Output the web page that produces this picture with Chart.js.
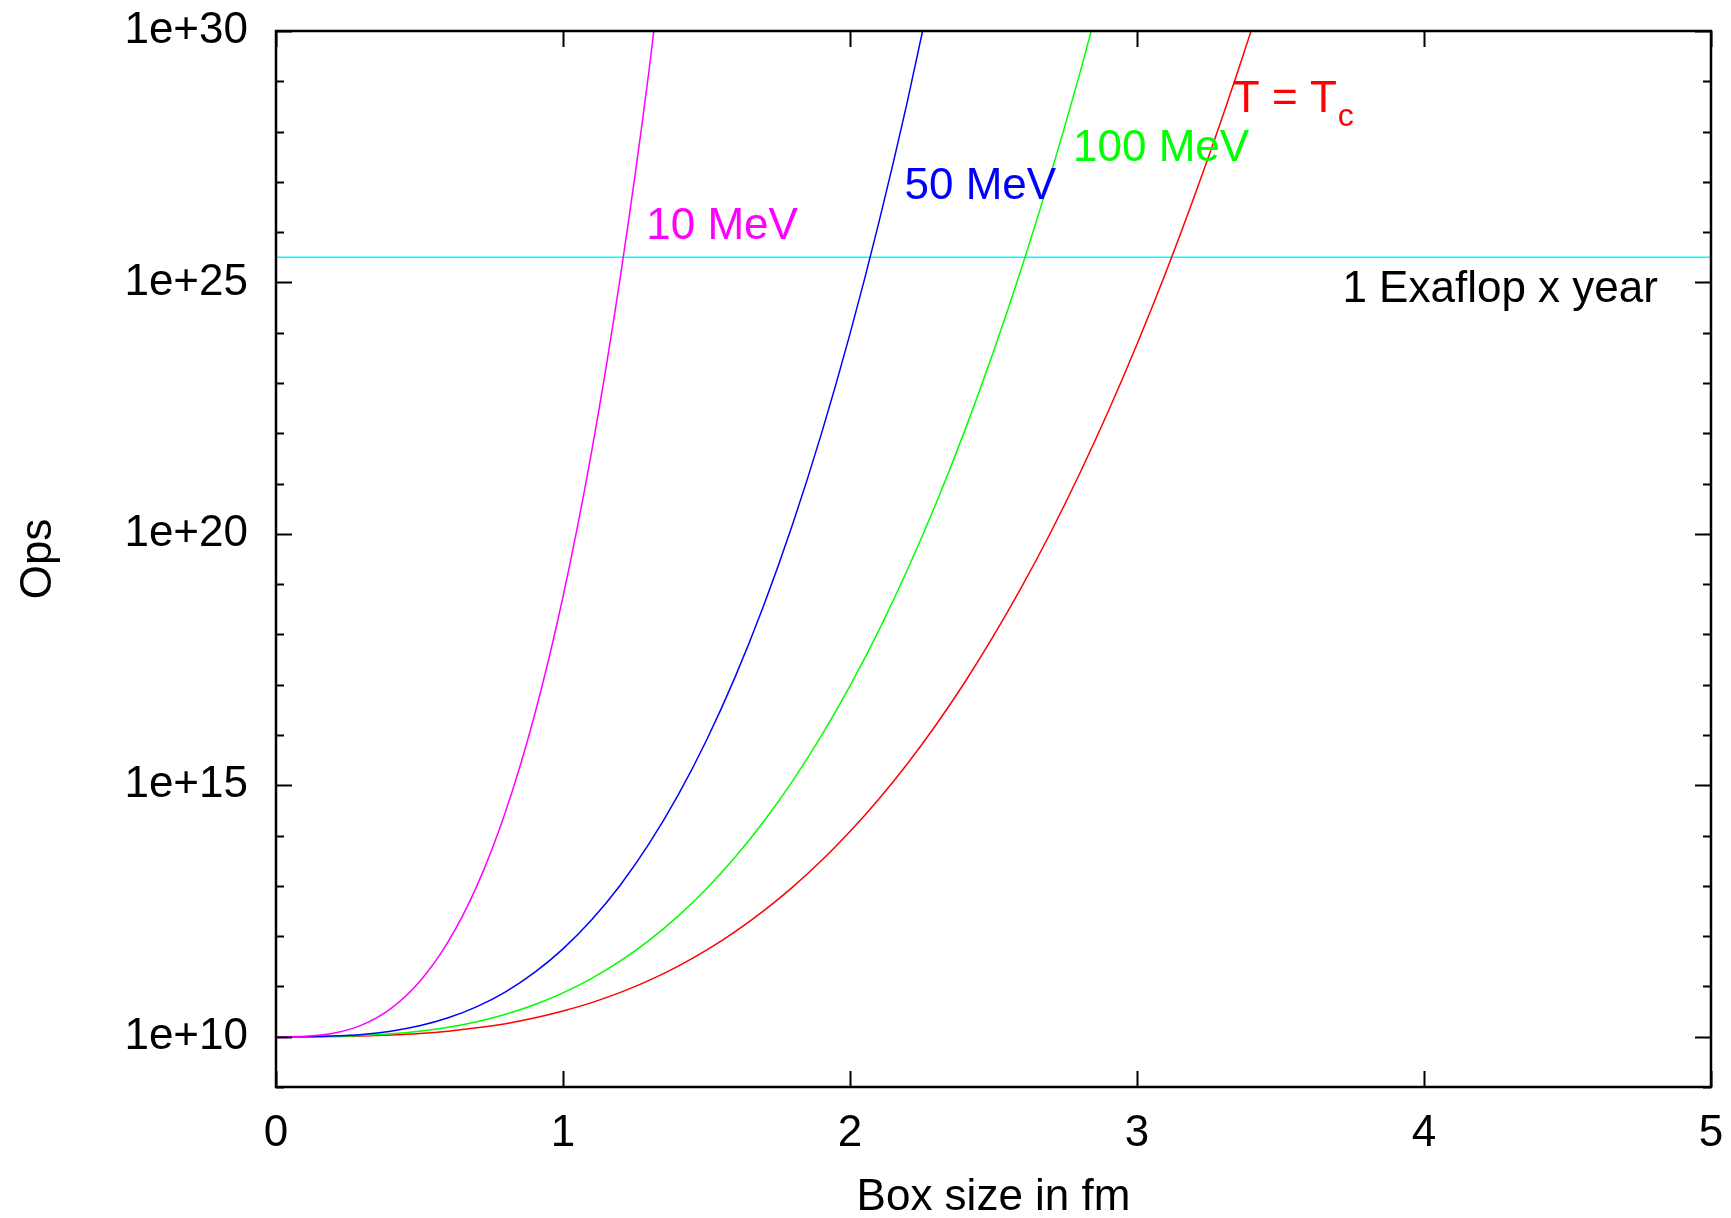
<!DOCTYPE html>
<html>
<head>
<meta charset="utf-8">
<script src="https://cdn.jsdelivr.net/npm/chart.js@4/dist/chart.umd.min.js"></script>
<style>
  html, body { margin: 0; padding: 0; background: #fff; }
  #wrap { width: 1731px; height: 1218px; }
</style>
</head>
<body>
<div id="wrap"><canvas id="opsChart" width="1731" height="1218"></canvas></div>
<script>
// box size L in fm
const boxSize = [0, 0.1, 0.2, 0.3, 0.4, 0.5, 0.6, 0.7, 0.8, 0.9, 1.0, 1.1, 1.2, 1.3, 1.4, 1.5, 1.6, 1.7,
  1.8, 1.9, 2.0, 2.1, 2.2, 2.3, 2.4, 2.5, 2.6, 2.7, 2.8, 2.9, 3.0, 3.1, 3.2, 3.3, 3.4, 3.5];

// operation counts per temperature
const ops10MeV = [1e10, 1.02e10, 1.17e10, 1.72e10, 3.63e10, 1.24e11, 7.76e11, 1.0e13, 3.02e14, 2.39e16,
  5.62e18, 4.43e21, 1.32e25, 1.67e29, 1.02e34];
const ops50MeV = [1e10, 1.0e10, 1.03e10, 1.11e10, 1.29e10, 1.65e10, 2.38e10, 3.97e10, 7.83e10, 1.88e11,
  5.58e11, 2.11e12, 1.04e13, 6.89e13, 6.22e14, 7.87e15, 1.43e17, 3.83e18, 1.55e20, 9.62e21, 9.46e23,
  1.51e26, 4.0e28, 1.8e31];
const ops100MeV = [1e10, 1.0e10, 1.02e10, 1.06e10, 1.14e10, 1.29e10, 1.54e10, 1.99e10, 2.79e10, 4.32e10,
  7.45e10, 1.45e11, 3.21e11, 8.24e11, 2.47e12, 8.77e12, 3.73e13, 1.92e14, 1.22e15, 9.57e15, 9.46e16,
  1.19e18, 1.93e19, 4.07e20, 1.13e22, 4.22e23, 2.12e25, 1.46e27, 1.39e29, 1.85e31];
const opsTc = [1e10, 1.0e10, 1.01e10, 1.03e10, 1.08e10, 1.16e10, 1.29e10, 1.50e10, 1.82e10, 2.35e10,
  3.24e10, 4.77e10, 7.60e10, 1.32e11, 2.51e11, 5.26e11, 1.23e12, 3.21e12, 9.42e12, 3.15e13, 1.20e14,
  5.28e14, 2.69e15, 1.60e16, 1.12e17, 9.31e17, 9.20e18, 1.09e20, 1.57e21, 2.74e22, 5.89e23, 1.56e25,
  5.15e26, 2.13e28, 1.11e30, 7.35e31];

// 1 exaflop sustained for one year
const exaflopYear = 3.15e25;

const xTicks = [0, 1, 2, 3, 4, 5];
const yDecades = [9, 10, 11, 12, 13, 14, 15, 16, 17, 18, 19, 20, 21, 22, 23, 24, 25, 26, 27, 28, 29, 30];

const FONT = "'Liberation Sans', Arial, Helvetica, sans-serif";
const FONT_SIZE = 44;

function toPoints(values) {
  return values.map((v, i) => ({ x: boxSize[i], y: v }));
}

function curve(values, color) {
  return {
    data: toPoints(values),
    borderColor: color,
    borderWidth: 1.5,
    pointRadius: 0,
    fill: false,
    cubicInterpolationMode: 'monotone'
  };
}

// text placed next to the curves, in data coordinates
const curveLabels = [
  { text: '10 MeV', x: 1.29, y: 1.25e26, color: '#ff00ff', align: 'left' },
  { text: '50 MeV', x: 2.19, y: 7.8e26, color: '#0000ff', align: 'left' },
  { text: '100 MeV', x: 2.777, y: 4.6e27, color: '#00ff00', align: 'left' },
  { text: 'T = T', sub: 'c', x: 3.334, y: 4.2e28, color: '#ff0000', align: 'left' },
  { text: '1 Exaflop x year', x: 4.815, y: 7.0e24, color: '#000000', align: 'right' }
];

// gnuplot style frame: border plus inward ticks mirrored on all sides
const framePlugin = {
  id: 'frame',
  afterDatasetsDraw(chart) {
    const { ctx, chartArea: a, scales: { x, y } } = chart;
    ctx.save();
    ctx.strokeStyle = '#000';
    ctx.lineWidth = 2;
    ctx.beginPath();
    xTicks.forEach(v => {
      const px = Math.round(x.getPixelForValue(v)) + 0.5;
      ctx.moveTo(px, a.bottom); ctx.lineTo(px, a.bottom - 16);
      ctx.moveTo(px, a.top); ctx.lineTo(px, a.top + 16);
    });
    yDecades.forEach(e => {
      const py = Math.round(y.getPixelForValue(Math.pow(10, e))) + 0.5;
      const len = e % 5 === 0 ? 16 : 8;
      ctx.moveTo(a.left, py); ctx.lineTo(a.left + len, py);
      ctx.moveTo(a.right, py); ctx.lineTo(a.right - len, py);
    });
    ctx.stroke();
    ctx.lineWidth = 2.5;
    ctx.strokeRect(a.left, a.top, a.right - a.left, a.bottom - a.top);

    ctx.font = FONT_SIZE + 'px ' + FONT;
    ctx.textBaseline = 'middle';
    curveLabels.forEach(l => {
      const px = x.getPixelForValue(l.x);
      const py = y.getPixelForValue(l.y);
      ctx.fillStyle = l.color;
      ctx.textAlign = l.align;
      ctx.fillText(l.text, px, py);
      if (l.sub) {
        const w = ctx.measureText(l.text).width;
        ctx.font = '32px ' + FONT;
        ctx.textAlign = 'left';
        ctx.fillText(l.sub, px + w + 1, py + 17);
        ctx.font = FONT_SIZE + 'px ' + FONT;
      }
    });
    ctx.restore();
  }
};

new Chart(document.getElementById('opsChart'), {
  type: 'line',
  data: {
    datasets: [
      curve(ops10MeV, '#ff00ff'),
      curve(ops50MeV, '#0000ff'),
      curve(ops100MeV, '#00ff00'),
      curve(opsTc, '#ff0000'),
      {
        data: [{ x: 0, y: exaflopYear }, { x: 5, y: exaflopYear }],
        borderColor: '#00ffff',
        borderWidth: 1.5,
        pointRadius: 0,
        fill: false
      }
    ]
  },
  options: {
    responsive: false,
    animation: false,
    events: [],
    layout: { padding: { top: 31, right: 20, left: 0, bottom: 0 } },
    plugins: { legend: { display: false }, tooltip: { enabled: false } },
    scales: {
      x: {
        type: 'linear',
        min: 0,
        max: 5,
        afterBuildTicks: s => { s.ticks = xTicks.map(v => ({ value: v })); },
        afterFit: s => { s.height = 131; s.paddingLeft = 0; s.paddingRight = 0; },
        grid: { display: false, drawTicks: false },
        border: { display: false },
        ticks: { color: '#000', padding: 20, font: { family: FONT, size: FONT_SIZE }, maxRotation: 0 },
        title: {
          display: true,
          text: 'Box size in fm',
          color: '#000',
          font: { family: FONT, size: FONT_SIZE, lineHeight: 0.9 },
          padding: { top: 0, bottom: 0 }
        }
      },
      y: {
        type: 'logarithmic',
        min: 1e9,
        max: 1e30,
        afterBuildTicks: s => { s.ticks = yDecades.map(e => ({ value: Math.pow(10, e) })); },
        afterFit: s => { s.width = 276; s.paddingTop = 0; s.paddingBottom = 0; },
        grid: { display: false, drawTicks: false },
        border: { display: false },
        ticks: {
          color: '#000',
          padding: 28,
          autoSkip: false,
          font: { family: FONT, size: FONT_SIZE },
          callback: v => {
            const e = Math.round(Math.log10(v));
            return e % 5 === 0 ? '1e+' + e : '';
          }
        },
        title: {
          display: true,
          text: 'Ops',
          color: '#000',
          font: { family: FONT, size: FONT_SIZE, lineHeight: 1 },
          padding: { top: 17, bottom: 0 }
        }
      }
    }
  },
  plugins: [framePlugin]
});
</script>
</body>
</html>
